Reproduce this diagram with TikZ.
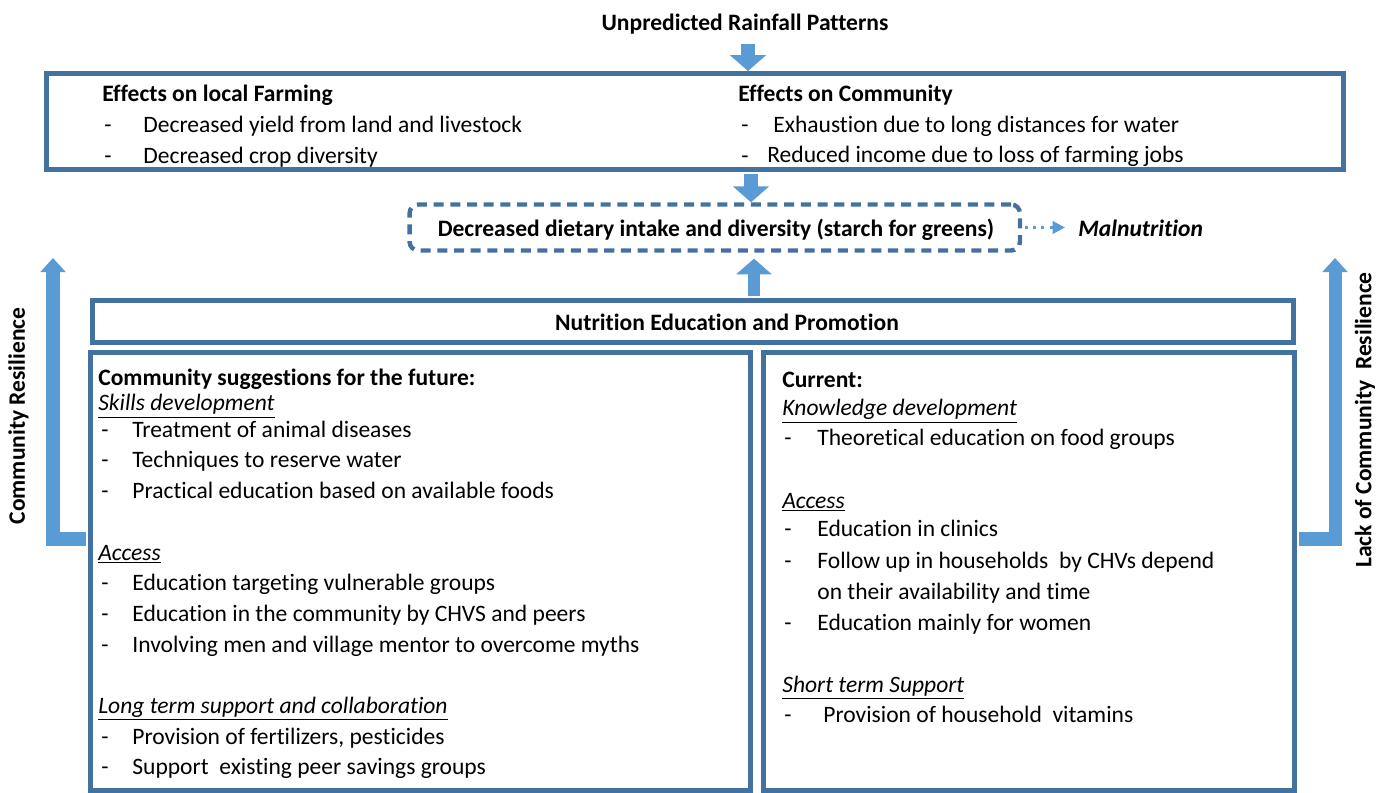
\documentclass[tikz,border=0pt]{standalone}
\usepackage{fontspec}
\setmainfont{Carlito}[Ligatures=NoCommon]
\usetikzlibrary{arrows.meta}
\definecolor{boxblue}{RGB}{68,114,160}
\definecolor{arrowblue}{RGB}{91,155,213}

\begin{document}
\begin{tikzpicture}[x=0.02cm, y=-0.02cm,
    frame/.style ={draw=boxblue, line width=2.8pt, inner sep=0pt},
    txt/.style ={inner sep=0pt, anchor=base west, font=\fontsize{13.4}{16}\selectfont},
    head/.style ={txt, font=\fontsize{13.4}{16}\selectfont\bfseries},
    blockarrow/.style ={arrowblue, line width=7.5pt, -{Triangle[width=20pt,length=9pt]}},
    sidearrow/.style ={arrowblue, line width=7.4pt, -{Triangle[width=14pt,length=8pt]}}]
   \useasboundingbox (0,0) rectangle (1389,793);

   \node[head, anchor=base] (rain) at (745,31) {Unpredicted Rainfall Patterns};
   \node[frame, minimum width=25.94cm, minimum height=1.92cm] (effects) at (695,121.5) {};
   \node[frame, line width=2.5pt, dash pattern=on 5.7pt off 3.8pt, rounded corners=5pt,
         minimum width=12.21cm, minimum height=0.92cm] (diet) at (714.75,227.5) {};
   \node[head, anchor=base] (dtext) at (716,237) {Decreased dietary intake and diversity (starch for greens)};
   \node[txt, font=\fontsize{13.4}{16}\selectfont\bfseries\itshape] (mal) at (1078,237) {Malnutrition};
   \node[frame, minimum width=24.02cm, minimum height=0.84cm] (nutri) at (693,321.5) {};
   \node[head, anchor=base] (ntext) at (727,331) {Nutrition Education and Promotion};
   \node[frame, minimum width=13.2cm, minimum height=8.76cm] (future) at (420.5,571.5) {};
   \node[frame, minimum width=10.63cm, minimum height=8.76cm] (current) at (1028.75,571.5) {};

   % effects of the rainfall
   \node[head] (farm) at (102,102) {Effects on local Farming};
   \node[txt] (f1) at (143,133) {Decreased yield from land and livestock};
   \node[txt] (f2) at (143,164) {Decreased crop diversity};
   \node[head] (comm) at (738,102) {Effects on Community};
   \node[txt] (c1) at (773,133) {Exhaustion due to long distances for water};
   \node[txt] (c2) at (767,163) {Reduced income due to loss of farming jobs};
   \foreach \y in {133,164} {
     \node[txt] (fd\y) at (104,\y) {-};
     \node[txt] (cd\y) at (741,\y) {-};
   }

   % community suggestions
   \node[head] (fhead) at (98,386) {Community suggestions for the future:};
   \node[txt] (fs1) at (98,411) {\underline{\textit{Skills development}}};
   \node[txt] (fs2) at (98,560) {\underline{\textit{Access}}};
   \node[txt] (fs3) at (98,713) {\underline{\textit{Long term support and collaboration}}};
   \foreach \y/\t in {438/Treatment of animal diseases, 468/Techniques to reserve water,
       499/Practical education based on available foods, 590/Education targeting vulnerable groups,
       621/Education in the community by CHVS and peers,
       652/Involving men and village mentor to overcome myths,
       744/{Provision of fertilizers, pesticides}, 774/Support\ \ existing peer savings groups} {
     \node[txt] (fd\y) at (101,\y) {-};
     \node[txt] (ft\y) at (132,\y) {\t};
   }

   % current situation
   \node[head] (chead) at (782,388) {Current:};
   \node[txt] (cs1) at (782,416) {\underline{\textit{Knowledge development}}};
   \node[txt] (cs2) at (782,508) {\underline{\textit{Access}}};
   \node[txt] (cs3) at (782,692) {\underline{\textit{Short term Support}}};
   \foreach \y/\t in {446/Theoretical education on food groups, 537/Education in clinics,
       568/Follow up in households\ \ by CHVs depend, 630/Education mainly for women} {
     \node[txt] (cd\y) at (784,\y) {-};
     \node[txt] (ct\y) at (817,\y) {\t};
   }
   \node[txt] (ct599) at (817,599) {on their availability and time};
   \node[txt] (cd722) at (784,722) {-};
   \node[txt] (ct722) at (823,722) {Provision of household\ \ vitamins};

   % resilience labels
   \node[head, anchor=center, rotate=90] (cres) at (18.5,416) {Community Resilience};
   \node[head, anchor=center, rotate=90] (lres) at (1365,420) {Lack of Community\ \ Resilience};
   \coordinate (crtip) at (53,258);
   \coordinate (lrtip) at (1335,258);

   \draw[blockarrow, shorten <=5pt] (rain.south -| 748,0) to (effects.north -| 748,0);
   \draw[blockarrow, shorten <=1.4pt] (effects.south -| 751,0) to (diet.north -| 751,0);
   \draw[blockarrow, line width=6.8pt, shorten <=1.4pt, shorten >=3.4pt] (nutri.north -| 754,0) to (diet.south -| 754,0);
   \draw[arrowblue, line width=1.7pt, dash pattern=on 1.7pt off 3pt, shorten <=1.5pt, shorten >=7.4pt,
         -{Triangle[width=7pt,length=7pt]}] (diet.east) to (diet.east -| mal.west);
   \draw[sidearrow, shorten <=1.4pt] (future.west |- 0,539) -| (crtip);
   \draw[sidearrow, shorten <=1.4pt] (current.east |- 0,539) -| (lrtip);
\end{tikzpicture}
\end{document}
